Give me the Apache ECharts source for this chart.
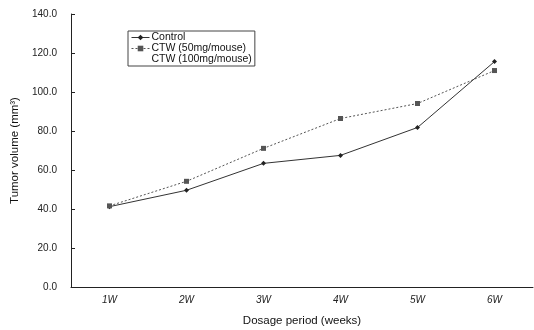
<!DOCTYPE html>
<html>
<head>
<meta charset="utf-8">
<script src="https://cdn.jsdelivr.net/npm/echarts@6/dist/echarts.min.js"></script>
<style>html,body{margin:0;padding:0;background:#fff}#c{width:534px;height:330px}</style>
</head>
<body>
<div id="c"></div>
<script>
const categories = ['1W', '2W', '3W', '4W', '5W', '6W'];
const controlValues = [41.2, 49.6, 63.4, 67.5, 81.8, 115.6];
const ctw50Values = [41.6, 54.2, 71.1, 86.4, 94.1, 111.0];
const ctw100Values = [];
const yTicks = [0, 20, 40, 60, 80, 100, 120, 140];

const font = 'Liberation Sans, Arial, sans-serif';
const chart = echarts.init(document.getElementById('c'));
chart.setOption({
  animation: false,
  backgroundColor: '#fff',
  grid: { left: 71, right: 1, top: 14, bottom: 43, outerBoundsMode: 'none', containLabel: false },
  legend: {
    left: 128, top: 31,
    orient: 'vertical',
    itemGap: 0,
    itemWidth: 18, itemHeight: 7,
    padding: [1, 3, 1, 3],
    borderColor: '#444', borderWidth: 1,
    textStyle: { fontFamily: font, fontSize: 10.5, color: '#111', padding: [0, 0, 0, -3] },
    data: [
      { name: 'Control', lineStyle: { width: 1 } },
      { name: 'CTW (50mg/mouse)', lineStyle: { width: 1 } },
      { name: 'CTW (100mg/mouse)', icon: 'rect', itemStyle: { color: 'rgba(0,0,0,0)' }, lineStyle: { color: 'rgba(0,0,0,0)' } }
    ]
  },
  xAxis: {
    type: 'category',
    data: categories,
    boundaryGap: true,
    name: 'Dosage period (weeks)',
    nameLocation: 'middle',
    nameGap: 28,
    nameTextStyle: { fontFamily: font, fontSize: 11.5, color: '#111' },
    axisLine: { lineStyle: { color: '#222', width: 1 } },
    axisTick: { inside: true, length: 4, lineStyle: { color: '#222' } },
    axisLabel: { fontFamily: font, fontSize: 10, color: '#222', margin: 8, fontStyle: 'italic' }
  },
  yAxis: {
    type: 'value',
    min: yTicks[0], max: yTicks[yTicks.length - 1], interval: 20,
    name: 'Tumor volume (mm³)',
    nameLocation: 'middle',
    nameGap: 42,
    nameTextStyle: { fontFamily: font, fontSize: 11.5, color: '#111' },
    axisLine: { show: true, lineStyle: { color: '#222', width: 1 } },
    axisTick: { show: true, inside: true, length: 4, lineStyle: { color: '#222' } },
    splitLine: { show: false },
    axisLabel: { fontFamily: font, fontSize: 10, color: '#222', margin: 14, formatter: v => v.toFixed(1) }
  },
  series: [
    {
      name: 'Control', type: 'line', data: controlValues,
      symbol: 'diamond', symbolSize: 5,
      itemStyle: { color: '#222' },
      lineStyle: { color: '#333', width: 1 }
    },
    {
      name: 'CTW (50mg/mouse)', type: 'line', data: ctw50Values,
      symbol: 'rect', symbolSize: 5,
      itemStyle: { color: '#555' },
      lineStyle: { color: '#555', width: 1, type: [2, 2] }
    },
    {
      name: 'CTW (100mg/mouse)', type: 'line', data: ctw100Values,
      symbol: 'none',
      itemStyle: { color: 'rgba(0,0,0,0)' },
      lineStyle: { color: 'rgba(0,0,0,0)' }
    }
  ]
});
</script>
</body>
</html>
